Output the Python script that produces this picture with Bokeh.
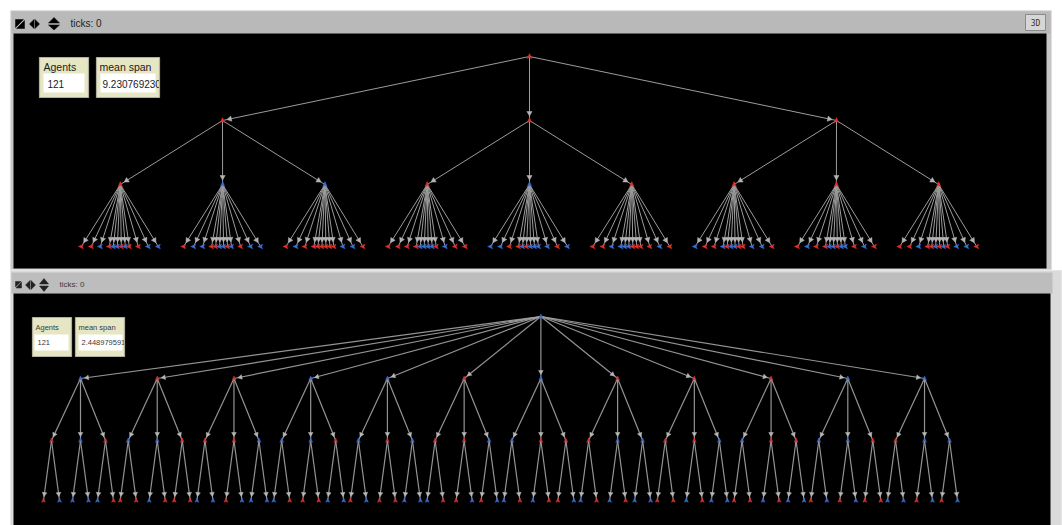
import math
from bokeh.plotting import figure
from bokeh.models import Range1d
from bokeh.core.properties import value
from bokeh.embed import file_html
from bokeh.resources import INLINE

# ---------------- data ----------------
# tree 1: root -> 3 -> 3 each -> 12 each ; tree 2: root -> 12 -> 3 each -> 2 each
TOP_BRANCHING = [3, 3, 12]
TOP_ROOT_COLOR = "r"
TOP_L1_COLORS = "rrr"
TOP_L2_COLORS = "rbbrbrrrr"
TOP_LEAF_COLORS = "".join([
    "rrbrbbrbrrbb", "rbbrrbbrbrbb", "rbrrrrrrrbbr",
    "rrrrbbbbrbrr", "bbrrbrbbbbrb", "rrbbbbrrrrbr",
    "brrbrbbrrbbr", "rbrrbbrbbrbr", "rrbrrbrbrbbr",
])
BOTTOM_BRANCHING = [12, 3, 2]
BOTTOM_ROOT_COLOR = "b"
BOTTOM_L1_COLORS = "brrbbrbrrrbb"
BOTTOM_L2_COLORS = "".join(["rbr", "bbr", "rrb", "bbr", "brb", "rrb",
                            "brr", "rbb", "rrb", "brr", "bbr", "rbb"])
BOTTOM_LEAF_COLORS = "".join(["rbbbbr", "rrbrrr", "bbrbbb", "brrrbb", "rbrrbb", "brrbrb",
                              "brbrrb", "brbrbb", "rrbrbb", "rrbrbb", "rbrbrr", "bbrbrb"])
MONITOR_LABELS = ["Agents", "mean span"]
TICKS_LABEL = "ticks: 0"

COL = {"r": "#e0302c", "b": "#3b6fd6"}

# ---------------- layout ----------------
def build_top():
    nodes, edges = [], []
    rx, ry = 529.0, 56.0
    y1, y2, y3 = 120.0, 184.0, 246.0
    nodes.append((rx, ry, 0, COL[TOP_ROOT_COLOR]))
    leaf_off = [-39, -29, -20, -11, -7, -3, 1, 5, 9, 18, 28, 38]
    l2i = 0
    li = 0
    for i in range(TOP_BRANCHING[0]):
        x1 = rx + (i - 1) * 307.0
        nodes.append((x1, y1, 0, COL[TOP_L1_COLORS[i]]))
        edges.append((rx, ry, x1, y1))
        for j in range(TOP_BRANCHING[1]):
            x2 = rx + (l2i - 4) * 102.3
            nodes.append((x2, y2, 0, COL[TOP_L2_COLORS[l2i]]))
            edges.append((x1, y1, x2, y2))
            for k in range(TOP_BRANCHING[2]):
                x3 = x2 + leaf_off[k]
                nodes.append((x3, y3, 270, COL[TOP_LEAF_COLORS[li]]))
                edges.append((x2, y2, x3, y3))
                li += 1
            l2i += 1
    return nodes, edges


def build_bottom():
    nodes, edges = [], []
    y0, y1, y2, y3 = 316.0, 378.0, 440.0, 500.0
    x1s = [80.0 + i * 76.73 for i in range(BOTTOM_BRANCHING[0])]
    rx = x1s[6]
    nodes.append((rx, y0, 0, COL[BOTTOM_ROOT_COLOR]))
    off2 = [-29, 0, 25]
    off3 = [-8, 8]
    l2i = 0
    li = 0
    for i, x1 in enumerate(x1s):
        nodes.append((x1, y1, 0, COL[BOTTOM_L1_COLORS[i]]))
        edges.append((rx, y0, x1, y1))
        for j in range(BOTTOM_BRANCHING[1]):
            x2 = x1 + off2[j]
            nodes.append((x2, y2, 0, COL[BOTTOM_L2_COLORS[l2i]]))
            edges.append((x1, y1, x2, y2))
            for k in range(BOTTOM_BRANCHING[2]):
                x3 = x2 + off3[k]
                nodes.append((x3, y3, 0, COL[BOTTOM_LEAF_COLORS[li]]))
                edges.append((x2, y2, x3, y3))
                li += 1
            l2i += 1
    return nodes, edges


def arrow_heads(edges, gap, length, half):
    xs, ys = [], []
    for (px, py, cx, cy) in edges:
        dx, dy = px - cx, py - cy
        L = math.hypot(dx, dy)
        ux, uy = dx / L, dy / L
        tx, ty = cx + ux * gap, cy + uy * gap
        bx, by = cx + ux * (gap + length), cy + uy * (gap + length)
        nx, ny = -uy, ux
        xs.append([tx, bx + nx * half, bx - nx * half])
        ys.append([ty, by + ny * half, by - ny * half])
    return xs, ys


SHAPE = [(0, -0.97), (-0.73, 0.67), (0, 0.37), (0.73, 0.67)]


def turtle_patches(nodes, scale):
    xs, ys, cs = [], [], []
    for (x, y, hd, c) in nodes:
        h = math.radians(hd)
        ch, sh = math.cos(h), math.sin(h)
        px, py = [], []
        for (sx, sy) in SHAPE:
            px.append(x + scale * (sx * ch - sy * sh))
            py.append(y + scale * (sx * sh + sy * ch))
        xs.append(px)
        ys.append(py)
        cs.append(c)
    return xs, ys, cs


top_nodes, top_edges = build_top()
bot_nodes, bot_edges = build_bottom()

top_agents = len(top_nodes)
bot_agents = len(bot_nodes)
top_span = len(top_edges) / (1 + TOP_BRANCHING[0] + TOP_BRANCHING[0] * TOP_BRANCHING[1])
bot_span = len(bot_edges) / (1 + BOTTOM_BRANCHING[0] + BOTTOM_BRANCHING[0] * BOTTOM_BRANCHING[1])

# ---------------- figure ----------------
W, H = 1062, 525
p = figure(width=W, height=H, x_range=Range1d(0, W), y_range=Range1d(H, 0),
           output_backend="svg", toolbar_location=None, min_border=0,
           x_axis_type=None, y_axis_type=None,
           background_fill_color="white", border_fill_color="white",
           outline_line_color=None)
p.xgrid.visible = False
p.ygrid.visible = False

FONT = value("Liberation Sans")

# ---- window chrome ----
# top panel
p.quad(left=[10], right=[1051], top=[10], bottom=[269], fill_color="#c6c6c6",
       line_color="#dedede", line_width=1)
p.quad(left=[11], right=[1050], top=[11], bottom=[33], fill_color="#b9b9b9", line_color=None)
p.quad(left=[13], right=[1046], top=[33], bottom=[268], fill_color="black", line_color=None)
# 3D button
p.quad(left=[1025], right=[1045], top=[14], bottom=[30], fill_color="#d6d6d6",
       line_color="#8a8a8a", line_width=1)
p.text(x=[1035], y=[22.5], text=["3D"], text_align="center", text_baseline="middle",
       text_font=value("DejaVu Sans Mono"), text_font_size="8px", text_color="#333333")
# bottom panel
p.quad(left=[10], right=[1061], top=[270], bottom=[526], fill_color="#dadada",
       line_color="#e6e6e6", line_width=1)
p.quad(left=[11], right=[1052], top=[272], bottom=[293], fill_color="#bdbdbd", line_color=None)
p.quad(left=[13], right=[1050], top=[293], bottom=[526], fill_color="black", line_color=None)

# header icons (top)
p.patches(xs=[[15, 23, 15], [24, 24, 16], [29, 33.5, 33.5], [39, 34.5, 34.5],
              [53.5, 48, 59], [53.5, 48, 59]],
          ys=[[19, 19, 27], [20, 28, 28], [23.5, 19, 28], [23.5, 19, 28],
              [17, 22.5, 22.5], [29.5, 24.5, 24.5]],
          fill_color="black", line_color="black", line_width=0.5)
# header icons (bottom)
p.patches(xs=[[15, 20.5, 15], [21, 21, 15.5], [25, 29.5, 29.5], [35, 30.5, 30.5],
              [43.5, 39, 48], [43.5, 39, 48]],
          ys=[[281, 281, 286.5], [281.5, 287.5, 287.5], [284.5, 280, 289], [284.5, 280, 289],
              [278, 283.5, 283.5], [291, 285.5, 285.5]],
          fill_color="#222222", line_color="#222222", line_width=0.5)
p.text(x=[70], y=[22.5], text=[TICKS_LABEL], text_align="left",
       text_baseline="middle", text_font=FONT, text_font_size="10px", text_color="#1e1e1e")
p.text(x=[59], y=[283.5], text=[TICKS_LABEL], text_align="left",
       text_baseline="middle", text_font=FONT, text_font_size="8px", text_color="#3a3a3a")

# ---- trees ----
p.segment(x0=[e[0] for e in top_edges], y0=[e[1] for e in top_edges],
          x1=[e[2] for e in top_edges], y1=[e[3] for e in top_edges],
          line_color="#9c9c9c", line_width=1)
p.segment(x0=[e[0] for e in bot_edges], y0=[e[1] for e in bot_edges],
          x1=[e[2] for e in bot_edges], y1=[e[3] for e in bot_edges],
          line_color="#a4a4a4", line_width=1.2, line_alpha=0.9)

ax, ay = arrow_heads(top_edges, 4.5, 4.5, 2.6)
p.patches(xs=ax, ys=ay, fill_color="#b4b4b4", line_color="#b4b4b4", line_width=0.5)
bx, by = arrow_heads(bot_edges, 4.0, 4.0, 2.3)
p.patches(xs=bx, ys=by, fill_color="#b8b8b8", line_color="#b8b8b8", line_width=0.5)

tx, ty, tc = turtle_patches(top_nodes, 3.0)
p.patches(xs=tx, ys=ty, fill_color=tc, line_color=tc, line_width=0.5)
ux, uy, uc = turtle_patches(bot_nodes, 2.6)
p.patches(xs=ux, ys=uy, fill_color=uc, line_color=uc, line_width=0.5, fill_alpha=0.9)

# ---- monitors ----
MON_FILL = "#e6e6c4"
# top monitors
p.quad(left=[39, 96], right=[88, 159], top=[57, 57], bottom=[97, 97],
       fill_color=MON_FILL, line_color=None)
p.quad(left=[43, 100], right=[84, 155], top=[73, 73], bottom=[92, 92],
       fill_color="white", line_color=None)
p.text(x=[43, 99], y=[66, 66], text=MONITOR_LABELS, text_align="left", text_baseline="middle",
       text_font=FONT, text_font_size="10.5px", text_color="#1a1a1a")
p.text(x=[47, 102], y=[83, 83], text=[str(top_agents), repr(top_span)], text_align="left",
       text_baseline="middle", text_font=FONT, text_font_size="10px", text_color="#1a1a1a")
# bottom monitors
p.quad(left=[32, 75], right=[71, 124], top=[317, 317], bottom=[356, 356],
       fill_color=MON_FILL, line_color=None)
p.quad(left=[34, 78], right=[68, 122], top=[334, 334], bottom=[350, 350],
       fill_color="white", line_color=None)
p.text(x=[35, 78], y=[326.5, 326.5], text=MONITOR_LABELS, text_align="left",
       text_baseline="middle", text_font=FONT, text_font_size="7.5px", text_color="#3a3a3a")
p.text(x=[37, 81], y=[342, 342], text=[str(bot_agents), repr(bot_span)], text_align="left",
       text_baseline="middle", text_font=FONT, text_font_size="7.5px", text_color="#3a3a3a")
# clip the long values at the monitor edge
p.quad(left=[159, 124], right=[200, 160], top=[74, 334], bottom=[92, 351],
       fill_color="black", line_color=None)
# monitor borders
p.quad(left=[39, 96, 32, 75], right=[88, 159, 71, 124], top=[57, 57, 317, 317],
       bottom=[97, 97, 356, 356], fill_color=None, line_color="#b0b0a0", line_width=1.2)

open("out.html", "w").write(file_html(p, INLINE))
